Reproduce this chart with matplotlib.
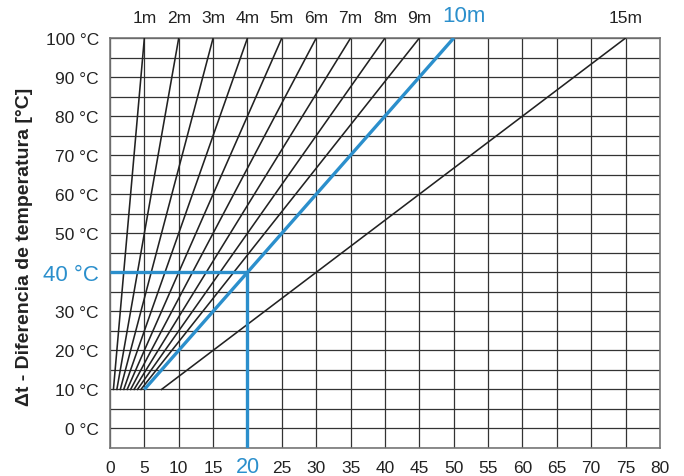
import numpy as np
from matplotlib import pyplot as plt

# pipe lengths [m] and where each line starts / ends on the length axis
lengths = [1, 2, 3, 4, 5, 6, 7, 8, 9, 10, 15]
x_start = [0.5, 1, 1.5, 2, 2.5, 3, 3.5, 4, 4.5, 5, 7.5]
x_end = [5, 10, 15, 20, 25, 30, 35, 40, 45, 50, 75]
t_start = 10
t_end = 100

# reading example (blue)
example_len = 10
example_x = 20
example_t = 40

x_ticks = list(range(0, 85, 5))
y_ticks = list(range(-5, 105, 5))
y_labels = ["%d °C" % t if t >= 0 and t % 10 == 0 else "" for t in y_ticks]

blue = "#2b8fcc"
dark = "#222222"

plt.rcParams['font.family'] = ['Liberation Sans', 'DejaVu Sans']

fig = plt.figure(figsize=(6.84, 4.77), dpi=100)
ax = fig.add_axes([0.1608, 0.0587, 0.8041, 0.8595])

for L, xs, xe in zip(lengths, x_start, x_end):
    if L == example_len:
        ax.plot([xs, xe], [t_start, t_end], color=blue, lw=2.4,
                solid_capstyle='butt', zorder=4)
        # blue label sits a bit to the right of the line end
        ax.annotate("%dm" % L, xy=(xe, 1.0), xycoords=ax.get_xaxis_transform(),
                    xytext=(7, 16), textcoords='offset points',
                    ha='center', va='center', color=blue, fontsize=16)
    else:
        ax.plot([xs, xe], [t_start, t_end], color=dark, lw=1.15, zorder=3)
        ax.text(xe, 1.05, "%dm" % L, transform=ax.get_xaxis_transform(),
                ha='center', va='center', color=dark, fontsize=12.5)

# example reading
ax.plot([0, example_x], [example_t, example_t], color=blue, lw=2.4, zorder=4,
        solid_capstyle='butt')
ax.plot([example_x, example_x], [example_t, -5], color=blue, lw=2.4, zorder=4,
        solid_capstyle='butt')

ax.set_xlim(0, 80)
ax.set_ylim(-5, 100)
ax.set_xticks(x_ticks)
ax.set_yticks(y_ticks)
ax.set_yticklabels(y_labels)
ax.grid(True, color="#333333", lw=0.9)
ax.set_axisbelow(True)
ax.tick_params(length=0, labelsize=12.5, colors="#222222")
ax.tick_params(axis='y', pad=8)
ax.tick_params(axis='x', pad=17.5)

for lbl, v in zip(ax.get_xticklabels(), x_ticks):
    lbl.set_verticalalignment('baseline')
    if v == example_x:
        lbl.set_color(blue)
        lbl.set_fontsize(15.5)
for lbl, v in zip(ax.get_yticklabels(), y_ticks):
    if v == example_t:
        lbl.set_color(blue)
        lbl.set_fontsize(16)

for s in ax.spines.values():
    s.set_color("#777777")
    s.set_linewidth(1.2)

ax.set_ylabel("Δt - Diferencia de temperatura [°C]", fontsize=14,
              fontweight='bold', color="#222222")
ax.yaxis.set_label_coords(-0.14, 0.4927)

fig.savefig("out.png", dpi=100)
